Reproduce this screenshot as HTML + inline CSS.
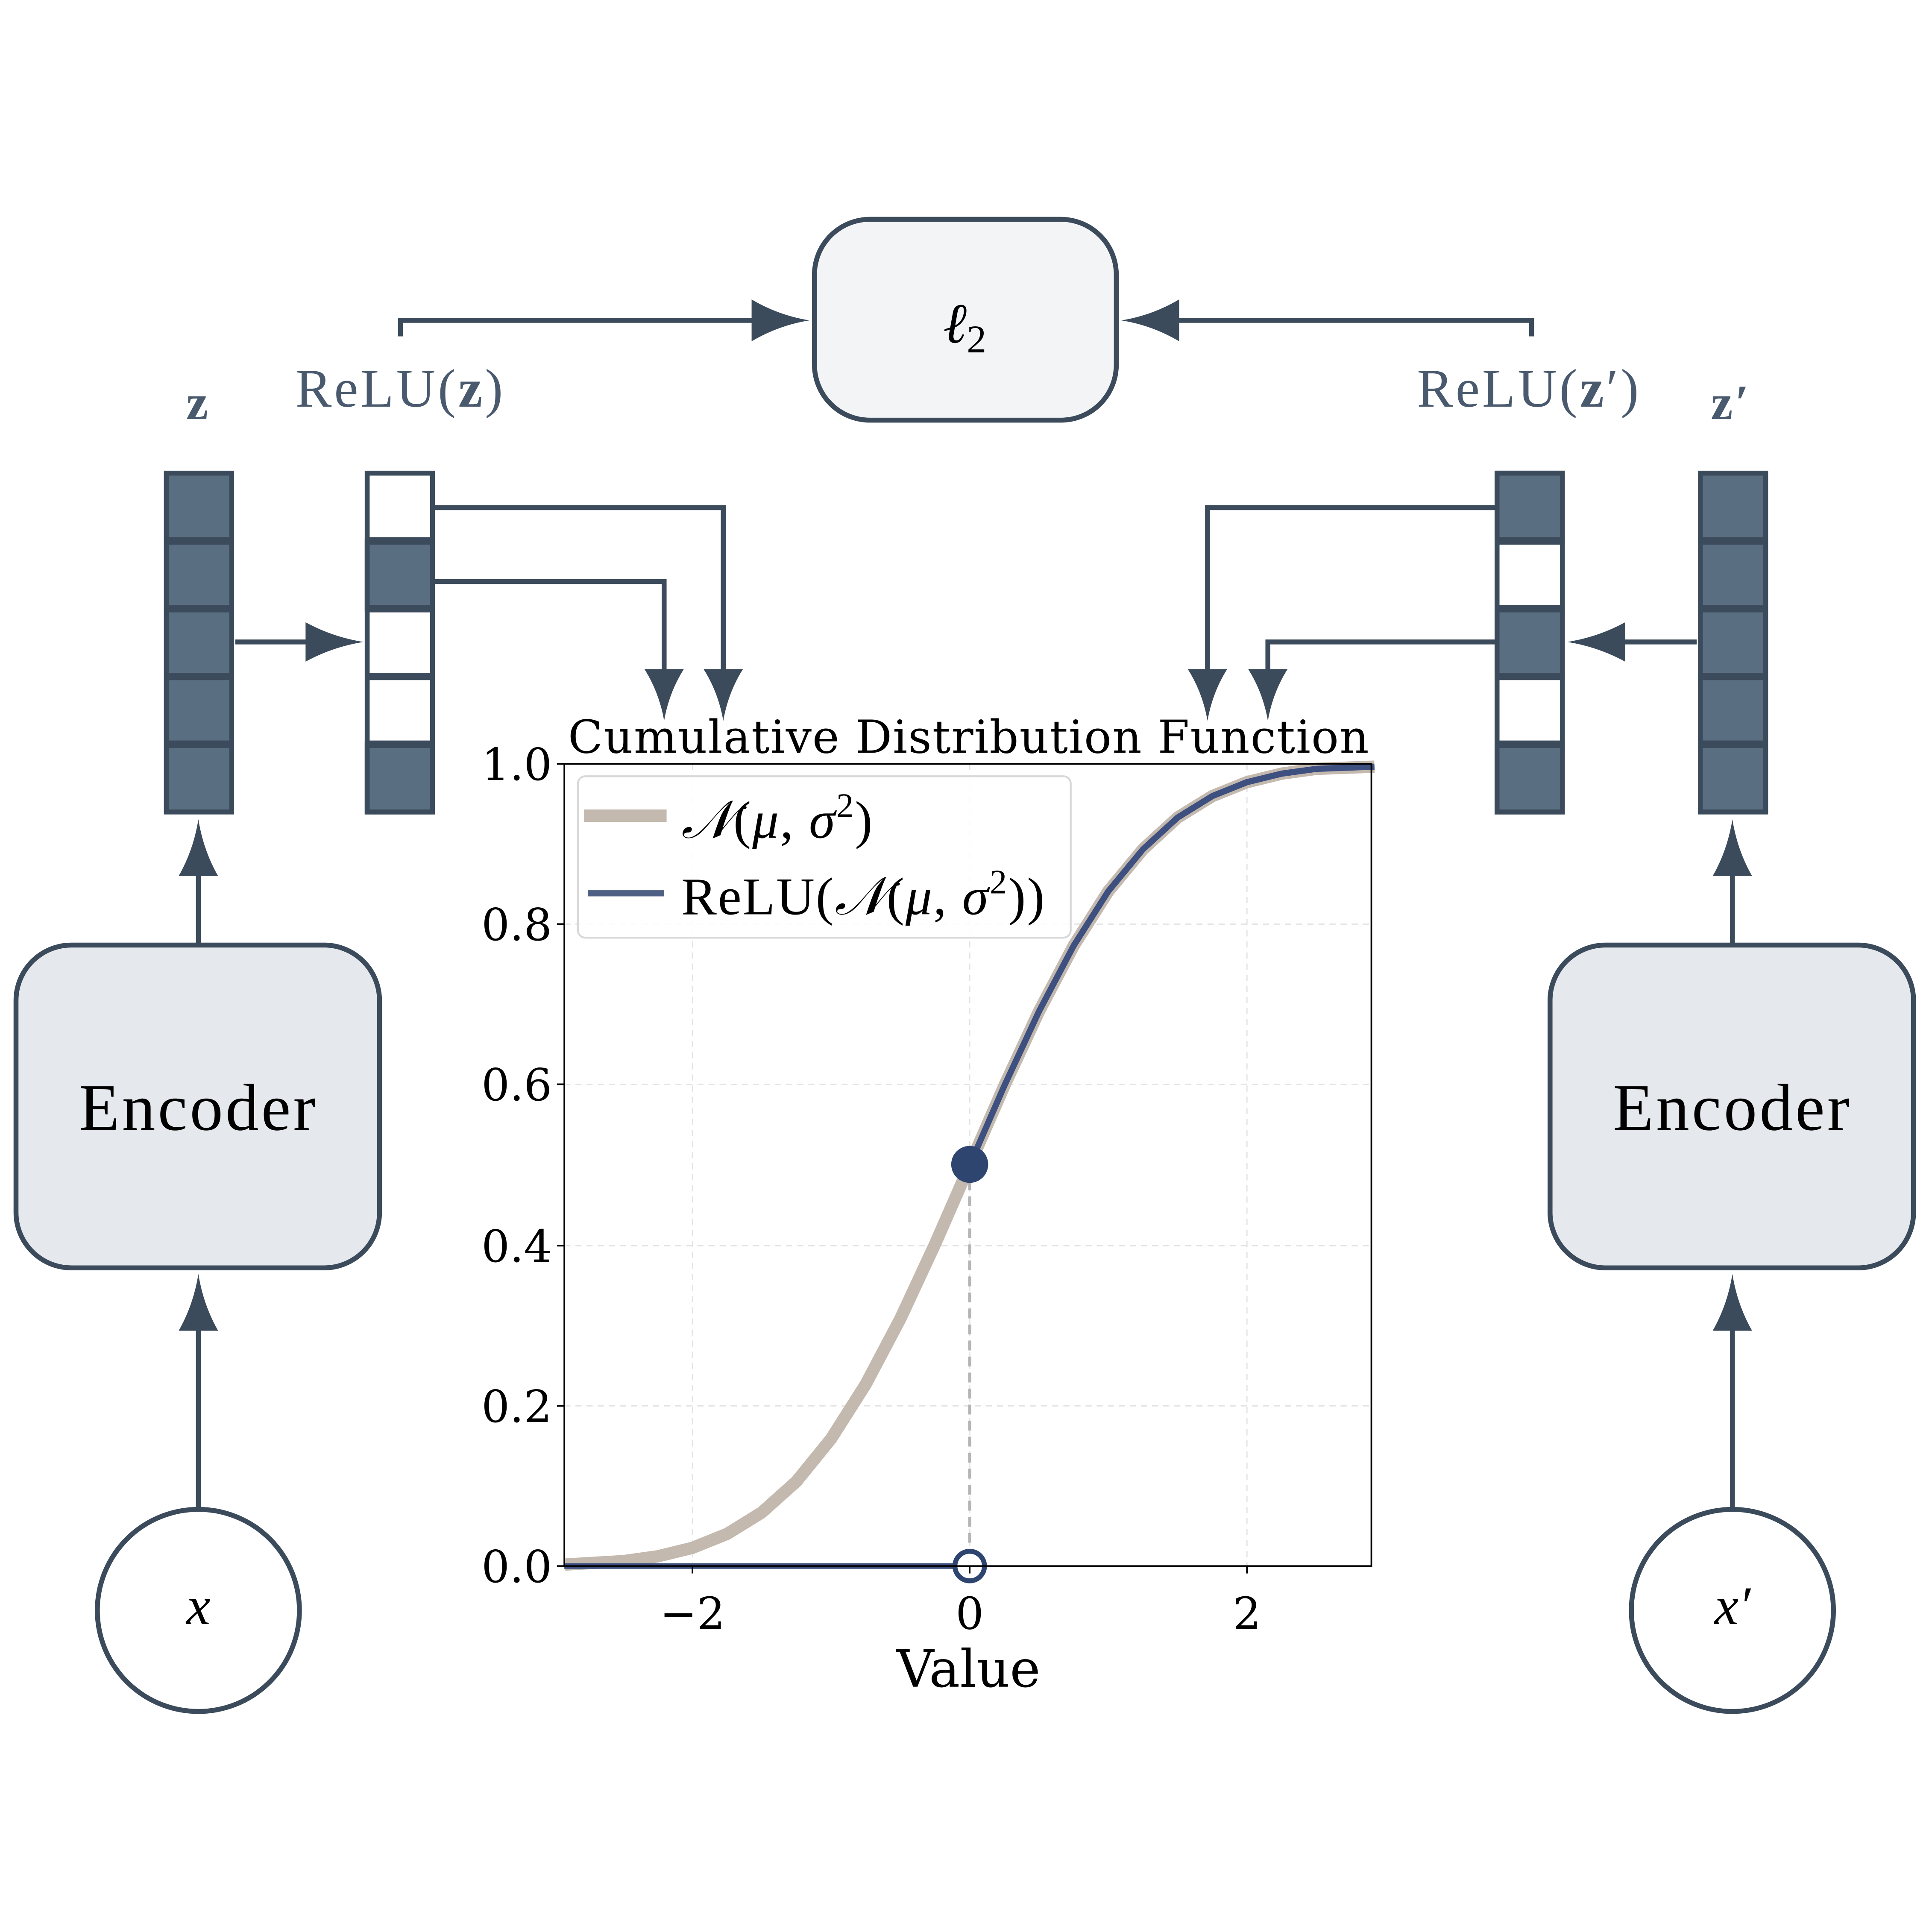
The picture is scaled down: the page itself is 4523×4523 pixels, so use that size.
<!DOCTYPE html>
<html><head><meta charset="utf-8"><style>html,body{margin:0;padding:0;background:#fff}svg{display:block}</style></head>
<body>
<svg width="4523" height="4523" viewBox="0 0 1568 1568" xmlns="http://www.w3.org/2000/svg">
<g stroke="#3b4b5b" stroke-width="4" fill="none">
<polyline points="325,273 325,260 612,260"/>
<polyline points="1243,273 1243,260 955,260"/>
<line x1="191" y1="521" x2="252" y2="521"/>
<line x1="1377" y1="521" x2="1316" y2="521"/>
<polyline points="325,412 587,412 587,545"/>
<polyline points="325,472 539,472 539,545"/>
<polyline points="1243,412 980,412 980,545"/>
<polyline points="1243,521 1029,521 1029,545"/>
<line x1="161" y1="767" x2="161" y2="710"/>
<line x1="1406" y1="767" x2="1406" y2="710"/>
<line x1="161" y1="1225" x2="161" y2="1078"/>
<line x1="1406" y1="1225" x2="1406" y2="1078"/>
</g>
<g fill="#3b4b5b">
<path d="M657,260 Q632,264 610,277 L610,243 Q632,256 657,260 Z"/>
<path d="M910,260 Q935,264 957,277 L957,243 Q935,256 910,260 Z"/>
<path d="M295,521 Q270,525 248,537 L248,505 Q270,517 295,521 Z"/>
<path d="M1272,521 Q1297,525 1319,537 L1319,505 Q1297,517 1272,521 Z"/>
<path d="M587,585 Q583,562 571,543 L603,543 Q591,562 587,585 Z"/>
<path d="M539,585 Q535,562 523,543 L555,543 Q543,562 539,585 Z"/>
<path d="M980,585 Q976,562 964,543 L996,543 Q984,562 980,585 Z"/>
<path d="M1029,585 Q1025,562 1013,543 L1045,543 Q1033,562 1029,585 Z"/>
<path d="M161,665 Q157,690 145,711 L177,711 Q165,690 161,665 Z"/>
<path d="M1406,665 Q1402,690 1390,711 L1422,711 Q1410,690 1406,665 Z"/>
<path d="M161,1034 Q157,1059 145,1080 L177,1080 Q165,1059 161,1034 Z"/>
<path d="M1406,1034 Q1402,1059 1390,1080 L1422,1080 Q1410,1059 1406,1034 Z"/>
</g>
<rect x="661" y="178" width="245" height="163" rx="45" fill="#f3f4f6" stroke="#3b4b5b" stroke-width="4"/>
<text x="783" y="278" font-family="Liberation Serif, serif" font-style="italic" font-size="46" text-anchor="middle" fill="#000">ℓ<tspan font-style="normal" font-size="32" dy="8">2</tspan></text>
<g font-family="Liberation Serif, serif" fill="#4a5a6e" font-size="44" text-anchor="middle" letter-spacing="2">
<text x="325" y="330">ReLU(<tspan font-weight="bold">z</tspan>)</text>
<text x="1241" y="330">ReLU(<tspan font-weight="bold">z</tspan>′)</text>
<text x="161" y="340" font-weight="bold" font-size="40">z</text>
<text x="1405" y="340" font-weight="bold" font-size="40">z′</text>
</g>
<g stroke="#3b4b5b" stroke-width="4">
<rect x="135" y="384" width="53" height="275" fill="#5a6e82"/>
<rect x="298" y="384" width="53" height="275" fill="#fff"/>
<rect x="298" y="439" width="53" height="55" fill="#5a6e82"/>
<rect x="298" y="604" width="53" height="55" fill="#5a6e82"/>
<rect x="1215" y="384" width="53" height="275" fill="#fff"/>
<rect x="1215" y="384" width="53" height="55" fill="#5a6e82"/>
<rect x="1215" y="494" width="53" height="55" fill="#5a6e82"/>
<rect x="1215" y="604" width="53" height="55" fill="#5a6e82"/>
<rect x="1380" y="384" width="53" height="275" fill="#5a6e82"/>
</g>
<g stroke="#3b4b5b" stroke-width="6">
<line x1="135" y1="439" x2="188" y2="439"/><line x1="135" y1="494" x2="188" y2="494"/><line x1="135" y1="549" x2="188" y2="549"/><line x1="135" y1="604" x2="188" y2="604"/>
<line x1="298" y1="439" x2="351" y2="439"/><line x1="298" y1="494" x2="351" y2="494"/><line x1="298" y1="549" x2="351" y2="549"/><line x1="298" y1="604" x2="351" y2="604"/>
<line x1="1215" y1="439" x2="1268" y2="439"/><line x1="1215" y1="494" x2="1268" y2="494"/><line x1="1215" y1="549" x2="1268" y2="549"/><line x1="1215" y1="604" x2="1268" y2="604"/>
<line x1="1380" y1="439" x2="1433" y2="439"/><line x1="1380" y1="494" x2="1433" y2="494"/><line x1="1380" y1="549" x2="1433" y2="549"/><line x1="1380" y1="604" x2="1433" y2="604"/>
</g>
<rect x="13" y="767" width="295" height="262" rx="45" fill="#e5e8ed" stroke="#3b4b5b" stroke-width="4"/>
<rect x="1258" y="767" width="295" height="262" rx="45" fill="#e5e8ed" stroke="#3b4b5b" stroke-width="4"/>
<g font-family="Liberation Serif, serif" font-size="54" text-anchor="middle" fill="#000" letter-spacing="2">
<text x="161" y="917">Encoder</text>
<text x="1406" y="917">Encoder</text>
</g>
<circle cx="161" cy="1307" r="82" fill="#fff" stroke="#3b4b5b" stroke-width="4"/>
<circle cx="1406" cy="1307" r="82" fill="#fff" stroke="#3b4b5b" stroke-width="4"/>
<g font-family="Liberation Serif, serif" font-style="italic" font-size="44" text-anchor="middle" fill="#000">
<text x="161" y="1318">x</text>
<text x="1406" y="1318">x′</text>
</g>
<g stroke="#e3e3e3" stroke-width="1" stroke-dasharray="5,4">
<line x1="562" y1="620" x2="562" y2="1271"/><line x1="787" y1="620" x2="787" y2="1271"/><line x1="1012" y1="620" x2="1012" y2="1271"/>
<line x1="458" y1="750" x2="1113" y2="750"/><line x1="458" y1="880" x2="1113" y2="880"/><line x1="458" y1="1011" x2="1113" y2="1011"/><line x1="458" y1="1141" x2="1113" y2="1141"/>
</g>
<line x1="787" y1="945" x2="787" y2="1271" stroke="#b5b5b5" stroke-width="2.5" stroke-dasharray="8,5"/>
<polyline fill="none" stroke="#c4b9ae" stroke-width="10" stroke-linejoin="round" points="458.5,1269.8 505.75,1267 533.9,1263.1 562,1256.2 590.1,1244.9 618.25,1227.5 646.4,1202.3 674.5,1167.7 702.6,1123.5 730.75,1070.2 758.9,1009.7 787,945.5 815.1,881.2 843.25,820.8 871.4,767.5 899.5,723.3 927.6,689.3 955.75,663.5 983.9,646.1 1012,634.8 1040.1,627.9 1068.25,624 1115.5,622.2"/>
<polyline fill="none" stroke="#3d5080" stroke-width="5" stroke-linejoin="round" points="787,945.5 815.1,881.2 843.25,820.8 871.4,767.5 899.5,723.3 927.6,689.3 955.75,663.5 983.9,646.1 1012,634.8 1040.1,627.9 1068.25,624 1115.5,622.2"/>
<line x1="458" y1="1271" x2="787" y2="1271" stroke="#3d5080" stroke-width="4.5"/>
<circle cx="787" cy="945" r="15" fill="#2e4570"/>
<circle cx="787" cy="1271" r="12" fill="#fff" stroke="#2e4570" stroke-width="4"/>
<rect x="458" y="620" width="655" height="651" fill="none" stroke="#000" stroke-width="1.3"/>
<g stroke="#000" stroke-width="1.3">
<line x1="452" y1="620" x2="458" y2="620"/><line x1="452" y1="750" x2="458" y2="750"/><line x1="452" y1="880" x2="458" y2="880"/><line x1="452" y1="1011" x2="458" y2="1011"/><line x1="452" y1="1141" x2="458" y2="1141"/><line x1="452" y1="1271" x2="458" y2="1271"/>
<line x1="562" y1="1271" x2="562" y2="1277"/><line x1="787" y1="1271" x2="787" y2="1277"/><line x1="1012" y1="1271" x2="1012" y2="1277"/>
</g>
<rect x="469" y="630" width="400" height="131" rx="6" fill="#fff" fill-opacity="0.85" stroke="#d8d8d8" stroke-width="1.5"/>
<line x1="474" y1="662" x2="541" y2="662" stroke="#c4b9ae" stroke-width="10"/>
<line x1="477" y1="725" x2="539" y2="725" stroke="#4f6085" stroke-width="5"/>
<g font-family="Liberation Serif, serif" font-size="43" fill="#000" letter-spacing="1">
<text x="553" y="680"><tspan font-style="italic">𝒩</tspan>(<tspan font-style="italic">μ</tspan>, <tspan font-style="italic">σ</tspan><tspan font-size="28" dy="-17">2</tspan><tspan dy="17">)</tspan></text>
<text x="553" y="742">ReLU(<tspan font-style="italic">𝒩</tspan>(<tspan font-style="italic">μ</tspan>, <tspan font-style="italic">σ</tspan><tspan font-size="28" dy="-17">2</tspan><tspan dy="17">))</tspan></text>
</g>
<g font-family="DejaVu Serif, serif" font-size="36" fill="#000">
<text x="786" y="611" text-anchor="middle" font-size="37" textLength="650" lengthAdjust="spacing">Cumulative Distribution Function</text>
<g text-anchor="end">
<text x="448" y="633">1.0</text><text x="448" y="763">0.8</text><text x="448" y="893">0.6</text><text x="448" y="1024">0.4</text><text x="448" y="1154">0.2</text><text x="448" y="1284">0.0</text>
</g>
<g text-anchor="middle">
<text x="562" y="1322">−2</text><text x="787" y="1322">0</text><text x="1012" y="1322">2</text>
<text x="786" y="1369" font-size="42">Value</text>
</g>
</g>
</svg>
</body></html>
